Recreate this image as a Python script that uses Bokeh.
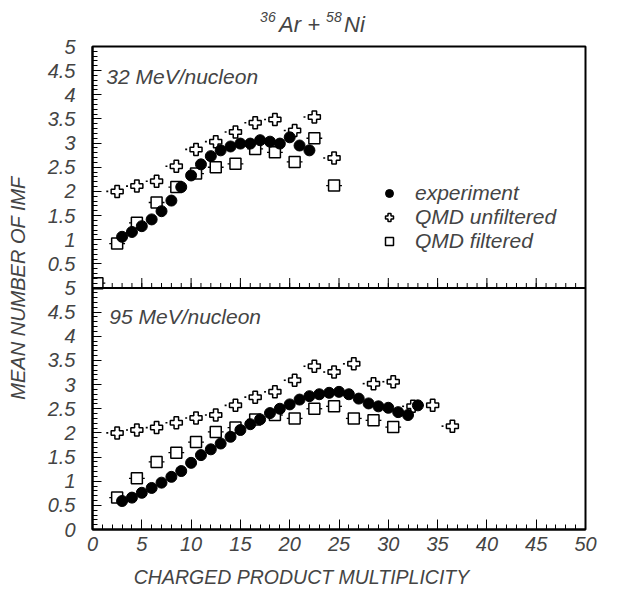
import math
from bokeh.plotting import figure
from bokeh.models import (ColumnDataSource, FixedTicker, CustomJSTickFormatter, Label,
                          Legend, LegendItem, Range1d, Span)
from bokeh.layouts import column
from bokeh.transform import dodge
from bokeh.embed import file_html
from bokeh.resources import INLINE

# ---------------- data ----------------
# 32 MeV/nucleon panel (upper)
exp32_x = [3, 4, 5, 6, 7, 8, 9, 10, 11, 12, 13, 14, 15, 16, 17, 18, 19, 20, 21, 22]
exp32_y = [1.06, 1.16, 1.28, 1.42, 1.59, 1.81, 2.09, 2.33, 2.56, 2.73, 2.85, 2.93, 2.99, 2.99,
           3.06, 3.03, 2.99, 3.12, 2.95, 2.85]
unf32_x = [2.5, 4.5, 6.5, 8.5, 10.5, 12.5, 14.5, 16.5, 18.5, 20.5, 22.5, 24.5]
unf32_y = [2.00, 2.11, 2.21, 2.52, 2.87, 3.03, 3.23, 3.42, 3.49, 3.26, 3.54, 2.69]
fil32_x = [0.5, 2.5, 4.5, 6.5, 8.5, 10.5, 12.5, 14.5, 16.5, 18.5, 20.5, 22.5, 24.5]
fil32_y = [0.10, 0.92, 1.35, 1.77, 2.09, 2.37, 2.50, 2.57, 2.88, 2.81, 2.61, 3.10, 2.12]

# 95 MeV/nucleon panel (lower)
exp95_x = [3, 4, 5, 6, 7, 8, 9, 10, 11, 12, 13, 14, 15, 16, 17, 18, 19, 20, 21, 22, 23, 24,
           25, 26, 27, 28, 29, 30, 31, 32, 33]
exp95_y = [0.59, 0.66, 0.76, 0.86, 0.97, 1.09, 1.21, 1.38, 1.54, 1.66, 1.78, 1.92, 2.06, 2.18,
           2.28, 2.41, 2.50, 2.59, 2.69, 2.76, 2.80, 2.83, 2.85, 2.80, 2.71, 2.61, 2.55, 2.52,
           2.43, 2.37, 2.57]
unf95_x = [2.5, 4.5, 6.5, 8.5, 10.5, 12.5, 14.5, 16.5, 18.5, 20.5, 22.5, 24.5, 26.5, 28.5,
           30.5, 32.5, 34.5, 36.5]
unf95_y = [2.00, 2.06, 2.11, 2.21, 2.31, 2.37, 2.57, 2.74, 2.85, 3.09, 3.38, 3.26, 3.43, 3.02,
           3.06, 2.55, 2.57, 2.14]
fil95_x = [2.5, 4.5, 6.5, 8.5, 10.5, 12.5, 14.5, 16.5, 18.5, 20.5, 22.5, 24.5, 26.5, 28.5, 30.5]
fil95_y = [0.66, 1.06, 1.40, 1.59, 1.81, 2.02, 2.11, 2.28, 2.37, 2.30, 2.50, 2.55, 2.30, 2.26, 2.12]

PANEL_MAX = 5          # each panel spans 0..5
y_ticks = [i * 0.5 for i in range(21)]
y_minor = [i * 0.1 for i in range(101)]
x_ticks = list(range(0, 51, 5))
x_minor = list(range(0, 51))

FONT = "Liberation Sans"
W = 600
FRAME_H = 483
PX_PER_UNIT = FRAME_H / (2 * PANEL_MAX)

x_range = Range1d(0, 50)


def strip(height):
    # strips share the main x range; their frames line up with the main frame
    f = figure(width=W, height=height, x_range=x_range, y_range=Range1d(0, height),
               x_axis_type=None, y_axis_type=None, title=None,
               min_border=0, min_border_left=92, min_border_right=15,
               min_border_top=0, min_border_bottom=0,
               output_backend="svg", toolbar_location=None)
    f.grid.visible = False
    f.outline_line_color = None
    return f


# ---------------- title strip ----------------
tf = strip(33)
for txt, off, yy, fs in [("36", 0, 17, "14px"), ("Ar +", 19, 9, "22px"),
                         ("58", 66, 17, "14px"), ("Ni", 84, 9, "22px")]:
    tf.add_layout(Label(x=17.0, y=yy, x_offset=off, text=txt, text_font=FONT,
                        text_font_style="italic", text_font_size=fs,
                        text_baseline="alphabetic", text_align="left"))

# ---------------- main figure (two stacked panels) ----------------
p = figure(width=W, height=13 + FRAME_H + 32, x_range=x_range,
           y_range=Range1d(0, 2 * PANEL_MAX), title=None,
           min_border_left=92, min_border_right=15, min_border_top=13, min_border_bottom=32,
           output_backend="svg", toolbar_location=None)
p.grid.visible = False
p.outline_line_color = "black"
p.outline_line_width = 2

ya = p.yaxis[0]
ya.ticker = FixedTicker(ticks=y_ticks, minor_ticks=y_minor)
ya.formatter = CustomJSTickFormatter(
    code="var v = tick > 5.0001 ? tick - 5 : tick; return (Math.round(v*10)/10).toString();")
ya.major_tick_in = 9
ya.major_tick_out = 0
ya.minor_tick_in = 5
ya.minor_tick_out = 0
ya.axis_line_width = 2
ya.major_label_standoff = 17
ya.major_label_text_font = FONT
ya.major_label_text_font_style = "italic"
ya.major_label_text_font_size = "20px"
ya.axis_label = "MEAN NUMBER OF IMF"
ya.axis_label_text_font = FONT
ya.axis_label_text_font_style = "italic"
ya.axis_label_text_font_size = "20px"
ya.axis_label_standoff = 16

xa = p.xaxis[0]
xa.ticker = FixedTicker(ticks=x_ticks, minor_ticks=x_minor)
xa.formatter = CustomJSTickFormatter(code="return tick.toString();")
xa.major_tick_in = 10
xa.major_tick_out = 0
xa.minor_tick_in = 5
xa.minor_tick_out = 0
xa.axis_line_width = 2
xa.major_label_standoff = 7
xa.major_label_text_font = FONT
xa.major_label_text_font_style = "italic"
xa.major_label_text_font_size = "20px"

# separator between the panels and the upper panel's own x ticks
p.add_layout(Span(location=PANEL_MAX, dimension="width", line_color="black", line_width=2))
p.segment(x0=x_minor, y0=[PANEL_MAX] * len(x_minor), x1=x_minor,
          y1=[PANEL_MAX + 5 / PX_PER_UNIT] * len(x_minor), line_color="black", line_width=1)
p.segment(x0=x_ticks, y0=[PANEL_MAX] * len(x_ticks), x1=x_ticks,
          y1=[PANEL_MAX + 10 / PX_PER_UNIT] * len(x_ticks), line_color="black", line_width=1)


def draw_panel(ex, ey, ux, uy, fx, fy, shift):
    s_e = ColumnDataSource(dict(x=ex, y=ey))
    s_u = ColumnDataSource(dict(x=ux, y=uy, xl0=[v - 1.1 for v in ux], xl1=[v - 0.9 for v in ux]))
    s_f = ColumnDataSource(dict(x=fx, y=fy, x0=[v - 0.8 for v in fx], x1=[v + 0.8 for v in fx]))
    yy = dodge("y", shift)
    p.segment(x0="x0", y0=yy, x1="x1", y1=yy, source=s_f, line_color="black", line_width=1.3)
    p.segment(x0="xl0", y0=yy, x1="xl1", y1=yy, source=s_u, line_color="black", line_width=1.6)
    r_f = p.scatter("x", yy, source=s_f, marker="square", size=11, fill_color="white",
                    line_color="black", line_width=1.5)
    r_u = p.scatter("x", yy, source=s_u, marker="plus", size=12, fill_color="white",
                    line_color="black", line_width=1.5)
    r_e = p.scatter("x", yy, source=s_e, marker="circle", size=11, fill_color="black",
                    line_color="black")
    return r_e, r_u, r_f


r_e, r_u, r_f = draw_panel(exp32_x, exp32_y, unf32_x, unf32_y, fil32_x, fil32_y, PANEL_MAX)
draw_panel(exp95_x, exp95_y, unf95_x, unf95_y, fil95_x, fil95_y, 0)

p.add_layout(Label(x=1.4, y=PANEL_MAX + 4.37, text="32 MeV/nucleon", text_font=FONT,
                   text_font_style="italic", text_font_size="21px",
                   text_baseline="middle", text_align="left"))
p.add_layout(Label(x=1.7, y=4.4, text="95 MeV/nucleon", text_font=FONT,
                   text_font_style="italic", text_font_size="21px",
                   text_baseline="middle", text_align="left"))

legend = Legend(items=[LegendItem(label="experiment", renderers=[r_e]),
                       LegendItem(label="QMD unfiltered", renderers=[r_u]),
                       LegendItem(label="QMD filtered", renderers=[r_f])],
                location=(287, 276))
legend.label_text_font = FONT
legend.label_text_font_style = "italic"
legend.label_text_font_size = "21px"
legend.glyph_width = 20
legend.glyph_height = 20
legend.label_height = 20
legend.spacing = 0
legend.padding = 0
legend.margin = 0
legend.label_standoff = 16
legend.border_line_color = None
legend.background_fill_alpha = 0
p.add_layout(legend)

# ---------------- x-axis title strip ----------------
xf = strip(26)
xf.add_layout(Label(x=21.2, y=11, text="CHARGED PRODUCT MULTIPLICITY", text_font=FONT,
                    text_font_style="italic", text_font_size="19.5px",
                    text_baseline="middle", text_align="center"))

layout = column(tf, p, xf)
open("out.html", "w").write(file_html(layout, INLINE))
